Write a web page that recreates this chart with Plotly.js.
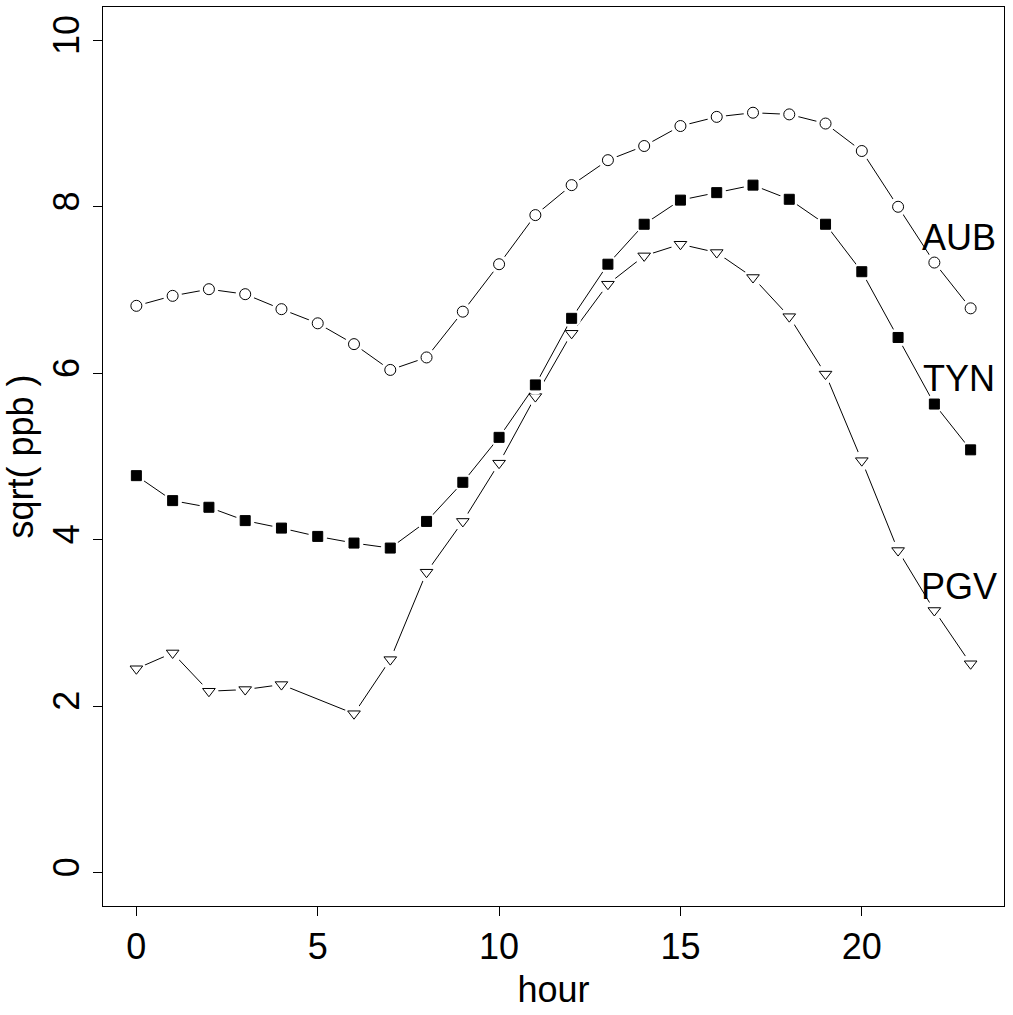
<!DOCTYPE html>
<html>
<head>
<meta charset="utf-8">
<script src="https://cdn.plot.ly/plotly-3.0.1.min.js"></script>
<style>
  html, body { margin: 0; padding: 0; background: #ffffff; }
  #chart { width: 1013px; height: 1015px; }
</style>
</head>
<body>
<div id="chart"></div>
<script>
// Hours of the day
const hoursAll = [0,1,2,3,4,5,6,7,8,9,10,11,12,13,14,15,16,17,18,19,20,21,22,23];
const hoursPGV = [0,1,2,3,4,6,7,8,9,10,11,12,13,14,15,16,17,18,19,20,21,22,23];

// sqrt(ppb) by hour for each site
const aubValues = [6.81,6.93,7.01,6.95,6.77,6.60,6.35,6.04,6.19,6.74,7.31,7.90,8.26,8.56,8.73,8.97,9.08,9.13,9.11,9.00,8.67,8.00,7.33,6.78];
const tynValues = [4.77,4.47,4.39,4.23,4.14,4.04,3.96,3.90,4.22,4.69,5.23,5.86,6.66,7.31,7.79,8.08,8.17,8.26,8.09,7.79,7.22,6.43,5.63,5.08];
const pgvValues = [2.45,2.64,2.18,2.20,2.26,1.91,2.56,3.61,4.22,4.92,5.72,6.48,7.07,7.41,7.55,7.45,7.15,6.68,5.99,4.95,3.87,3.15,2.51];

// Site labels and where they are written
const siteNames = ["AUB","TYN","PGV"];
const labelX = [22.68, 22.68, 22.68];
const labelY = [7.63, 5.94, 3.44];

// Axis ticks
const xTicks = [0,5,10,15,20];
const yTicks = [0,2,4,6,8,10];

const FONT = "Liberation Sans, Arial, Helvetica, sans-serif";
const FS = 36;

function seriesTraces(x, y, symbol, fill, size) {
  return [
    { x: x, y: y, mode: "lines", line: { color: "#000", width: 1 }, hoverinfo: "skip", showlegend: false },
    { x: x, y: y, mode: "markers", marker: { symbol: "circle", size: 19, color: "#fff", line: { width: 0 } }, hoverinfo: "skip", showlegend: false },
    { x: x, y: y, mode: "markers", marker: { symbol: symbol, size: size, color: fill, line: { color: "#000", width: 1 } }, showlegend: false }
  ];
}

const traces = []
  .concat(seriesTraces(hoursPGV, pgvValues, "triangle-down", "#fff", 11))
  .concat(seriesTraces(hoursAll, tynValues, "square", "#000", 10))
  .concat(seriesTraces(hoursAll, aubValues, "circle", "#fff", 11));

const annotations = siteNames.map((name, i) => ({
  x: labelX[i], y: labelY[i], xref: "x", yref: "y", text: name,
  showarrow: false, xanchor: "center", yanchor: "middle",
  font: { family: FONT, size: FS, color: "#000" }
}));

const layout = {
  width: 1013, height: 1015,
  margin: { l: 103, r: 9, t: 7, b: 109, pad: 0 },
  paper_bgcolor: "#fff", plot_bgcolor: "#fff",
  showlegend: false,
  font: { family: FONT, size: FS, color: "#000" },
  xaxis: {
    range: [-0.92, 23.92], tickvals: xTicks, ticktext: xTicks.map(String),
    ticks: "outside", ticklen: 9, tickwidth: 1, tickcolor: "#000",
    showline: true, linecolor: "#000", linewidth: 1, mirror: true,
    showgrid: false, zeroline: false,
    tickfont: { family: FONT, size: FS, color: "#000" },
    title: { text: "hour", font: { family: FONT, size: FS, color: "#000" }, standoff: 10 },
    automargin: false
  },
  yaxis: {
    range: [-0.4, 10.4], tickvals: yTicks, ticktext: yTicks.map(String),
    ticks: "outside", ticklen: 9, tickwidth: 1, tickcolor: "#000", tickangle: -90,
    showline: true, linecolor: "#000", linewidth: 1, mirror: true,
    showgrid: false, zeroline: false,
    tickfont: { family: FONT, size: FS, color: "#000" },
    title: { text: "sqrt( ppb )", font: { family: FONT, size: FS, color: "#000" }, standoff: 8 },
    automargin: false
  },
  annotations: annotations
};

Plotly.newPlot("chart", traces, layout, { displayModeBar: false, staticPlot: true });
</script>
</body>
</html>
